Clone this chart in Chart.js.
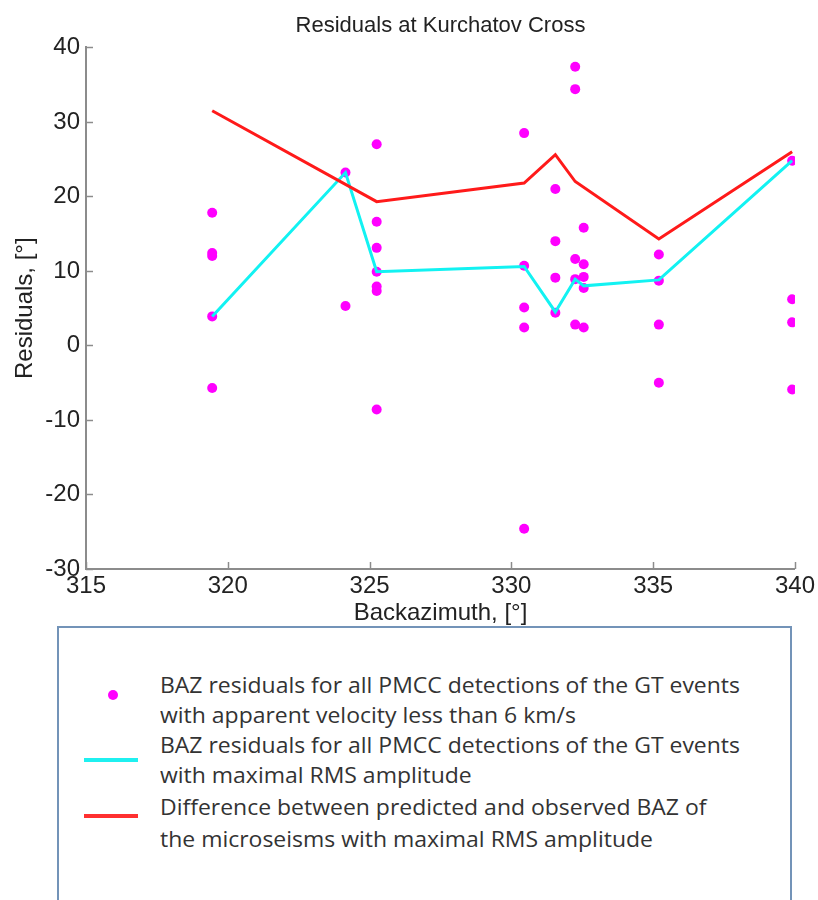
<!DOCTYPE html>
<html>
<head>
<meta charset="utf-8">
<script src="https://cdn.jsdelivr.net/npm/chart.js@4.4.1/dist/chart.umd.min.js"></script>
<style>
html,body{margin:0;padding:0;background:#fff;width:818px;height:900px;overflow:hidden;}
#wrap{position:absolute;left:0;top:0;width:818px;height:640px;}
#legend{position:absolute;left:57px;top:626px;width:735px;height:300px;border:2px solid #7393b8;box-sizing:border-box;background:#fff;}
.lt{position:absolute;left:101px;white-space:nowrap;font-family:"Open Sans",sans-serif;font-size:22px;color:#333;line-height:30px;transform-origin:0 50%;}
.dot{position:absolute;width:10px;height:10px;border-radius:50%;background:#ff00ff;}
.ln{position:absolute;width:54px;height:4px;}
</style>
</head>
<body>
<div id="wrap"><canvas id="c"></canvas></div>
<div id="legend"></div>
<script>
// ---- data ----
const xTicks = [315, 320, 325, 330, 335, 340];
const yTicks = [-30, -20, -10, 0, 10, 20, 30, 40];

// magenta points: BAZ residuals, apparent velocity < 6 km/s
const scatterBaz = [
  319.45, 319.45, 319.45, 319.45, 319.45,
  324.15, 324.15,
  325.25, 325.25, 325.25, 325.25, 325.25, 325.25, 325.25,
  330.45, 330.45, 330.45, 330.45, 330.45,
  331.55, 331.55, 331.55, 331.55,
  332.25, 332.25, 332.25, 332.25, 332.25,
  332.55, 332.55, 332.55, 332.55, 332.55,
  335.2, 335.2, 335.2, 335.2,
  339.9, 339.9, 339.9, 339.9
];
const scatterRes = [
  17.8, 12.4, 12.0, 3.9, -5.7,
  23.2, 5.3,
  27.0, 16.6, 13.1, 9.9, 7.9, 7.3, -8.6,
  28.5, 10.7, 5.1, 2.4, -24.6,
  21.0, 14.0, 9.1, 4.4,
  37.4, 34.4, 11.6, 8.9, 2.8,
  15.8, 10.9, 9.2, 7.7, 2.4,
  12.2, 8.7, 2.8, -5.0,
  24.8, 6.2, 3.1, -5.9
];

// cyan line: detections with maximal RMS amplitude
const cyanBaz = [319.45, 324.15, 325.25, 330.45, 331.55, 332.25, 332.55, 335.2, 339.9];
const cyanRes = [3.9, 23.2, 9.9, 10.6, 4.5, 8.9, 8.0, 8.8, 24.8];

// red line: predicted minus observed BAZ of microseisms
const redBaz = [319.45, 325.25, 330.45, 331.55, 332.25, 335.2, 339.9];
const redRes = [31.5, 19.3, 21.8, 25.6, 22.0, 14.3, 26.0];

const titleText = "Residuals at Kurchatov Cross";
const xTitle = "Backazimuth, [°]";
const yTitle = "Residuals, [°]";
const legendLines = [
  "BAZ residuals for all PMCC detections of the GT events",
  "with apparent velocity less than 6 km/s",
  "BAZ residuals for all PMCC detections of the GT events",
  "with maximal RMS amplitude",
  "Difference between predicted and observed BAZ of",
  "the microseisms with maximal RMS amplitude"
];

// ---- build ----
const pts = (xs, ys) => xs.map((x, i) => ({x: x, y: ys[i]}));
const FONT = '"Liberation Sans", Arial, sans-serif';
const AX = '#8c8c8c';

const inwardTicks = {
  id: 'inwardTicks',
  afterDraw(chart) {
    const {ctx, chartArea: a, scales: {x, y}} = chart;
    ctx.save();
    ctx.strokeStyle = AX;
    ctx.lineWidth = 1.5;
    xTicks.forEach(v => {
      const px = Math.round(x.getPixelForValue(v)) + 0.5;
      ctx.beginPath(); ctx.moveTo(px, a.bottom); ctx.lineTo(px, a.bottom - 7); ctx.stroke();
    });
    yTicks.forEach(v => {
      const py = Math.round(y.getPixelForValue(v)) + 0.5;
      ctx.beginPath(); ctx.moveTo(a.left, py); ctx.lineTo(a.left + 7, py); ctx.stroke();
    });
    ctx.restore();
  }
};

new Chart(document.getElementById('c'), {
  type: 'scatter',
  data: {
    datasets: [
      {label: 'red', type: 'line', data: pts(redBaz, redRes), borderColor: '#ff1a1a', borderWidth: 3, pointRadius: 0, tension: 0, fill: false, order: 0},
      {label: 'cyan', type: 'line', data: pts(cyanBaz, cyanRes), borderColor: '#12f2f2', borderWidth: 3, pointRadius: 0, tension: 0, fill: false, order: 1},
      {label: 'points', data: pts(scatterBaz, scatterRes), backgroundColor: '#ff00ff', borderColor: '#ff00ff', borderWidth: 0, pointRadius: 5, order: 2}
    ]
  },
  options: {
    responsive: true,
    maintainAspectRatio: false,
    animation: false,
    layout: {padding: {left: 0, right: 21, top: 0, bottom: 0}},
    plugins: {
      legend: {display: false},
      tooltip: {enabled: false},
      title: {display: true, fullSize: false, text: titleText, color: '#222', font: {family: FONT, size: 22, weight: 'normal'}, padding: {top: 13, bottom: 8}}
    },
    scales: {
      x: {
        type: 'linear', min: 315, max: 340,
        afterBuildTicks: s => { s.ticks = xTicks.map(v => ({value: v})); },
        ticks: {color: '#222', font: {family: FONT, size: 24}, padding: 3, maxRotation: 0},
        grid: {display: false, drawTicks: false},
        border: {display: true, color: AX, width: 2},
        title: {display: true, text: xTitle, color: '#222', font: {family: FONT, size: 24}, padding: {top: 0, bottom: 12}},
        afterFit: s => { s.height = 71; }
      },
      y: {
        type: 'linear', min: -30, max: 40,
        afterBuildTicks: s => { s.ticks = yTicks.map(v => ({value: v})); },
        ticks: {color: '#222', font: {family: FONT, size: 24}, padding: 6},
        grid: {display: false, drawTicks: false},
        border: {display: true, color: AX, width: 2},
        title: {display: true, text: yTitle, color: '#222', font: {family: FONT, size: 24}, padding: {top: 11, bottom: 0}},
        afterFit: s => { s.width = 86; }
      }
    }
  },
  plugins: [inwardTicks]
});

// ---- legend (HTML) ----
const leg = document.getElementById('legend');
const lineTops = [41, 71, 101, 131, 163, 195]; // relative to box top (line boxes 30px)
const mk = [
  {kind: 'dot', color: '#ff00ff', top: 62},
  {kind: 'ln', color: '#1ff0f0', top: 130},
  {kind: 'ln', color: '#ff3030', top: 186}
];
legendLines.forEach((t, i) => {
  const d = document.createElement('div');
  d.className = 'lt';
  d.style.top = lineTops[i] + 'px';
  d.textContent = t;
  leg.appendChild(d);
});
mk.forEach(m => {
  const d = document.createElement('div');
  d.className = m.kind;
  d.style.background = m.color;
  if (m.kind === 'dot') { d.style.left = '49px'; d.style.top = m.top + 'px'; }
  else { d.style.left = '25px'; d.style.top = m.top + 'px'; }
  leg.appendChild(d);
});
// fit legend text width to reference (~580px for the longest line)
const first = leg.querySelector('.lt');
const w = first.getBoundingClientRect().width;
const k = 580 / w;
leg.querySelectorAll('.lt').forEach(el => { el.style.transform = 'scaleX(' + k.toFixed(3) + ')'; });
</script>
</body>
</html>
